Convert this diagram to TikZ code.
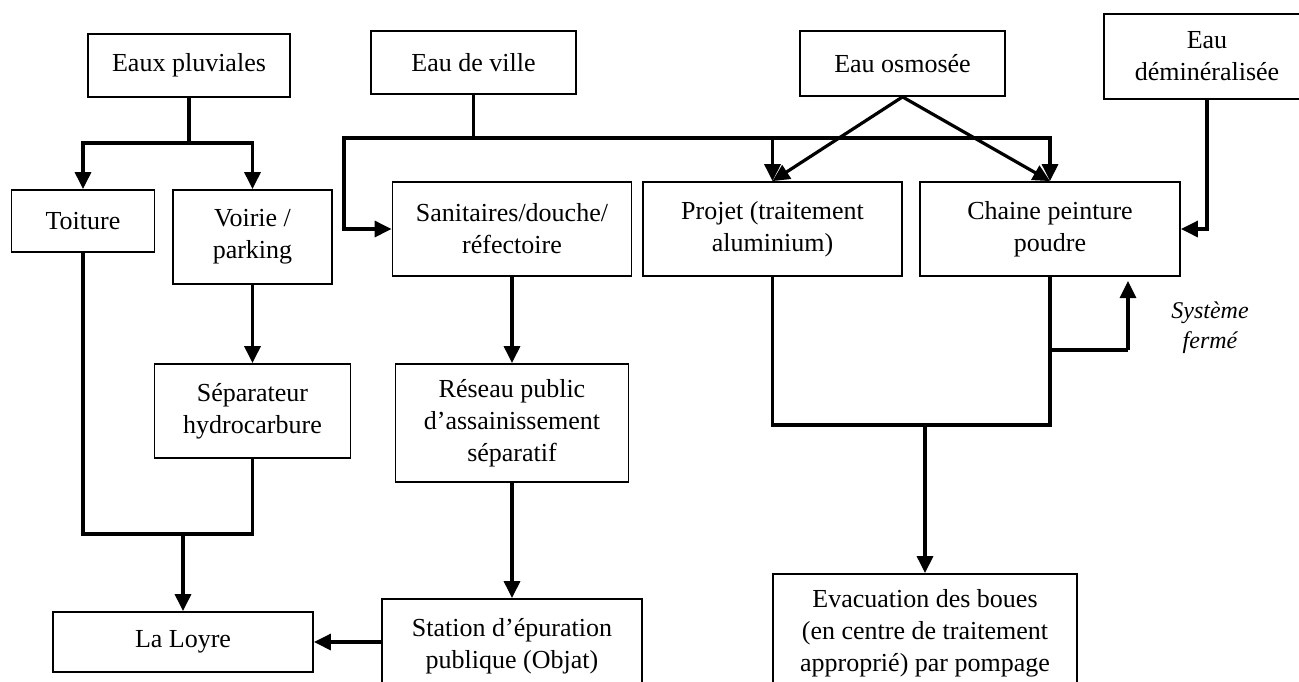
\documentclass[tikz,border=0pt]{standalone}
\usepackage{fontspec}
\setmainfont{Liberation Serif}
\usetikzlibrary{arrows.meta}
\begin{document}
\begin{tikzpicture}[x=1pt,y=-1pt,
  box/.style={draw,line width=1.8pt,rectangle,inner sep=0pt,align=center,font=\fontsize{26}{32}\selectfont},
  conn/.style={line width=3.2pt},
  arr/.style={conn,-{Triangle[width=16pt,length=17pt]}},
  lbl/.style={align=center,inner sep=0pt,font=\fontsize{24}{30}\selectfont\itshape}]
\useasboundingbox (0,0) rectangle (1299,681);
\clip (0,0) rectangle (1299,681);
% top row
\node[box,minimum width=202pt,minimum height=63pt] (pluv) at (189,65.5) {Eaux pluviales};
\node[box,minimum width=205pt,minimum height=63pt] (ville) at (473.5,62.5) {Eau de ville};
\node[box,minimum width=205pt,minimum height=65pt] (osmo) at (902.5,63.5) {Eau osmosée};
\node[box,minimum width=206pt,minimum height=85pt] (demin) at (1207,56.5) {Eau\\déminéralisée};
% second row
\node[box,minimum width=143pt,minimum height=62pt] (toit) at (83,221) {Toiture};
\node[box,minimum width=159pt,minimum height=94pt] (voir) at (252.5,237) {Voirie /\\parking};
\node[box,minimum width=239pt,minimum height=94pt] (sani) at (512,229) {Sanitaires/douche/\\réfectoire};
\node[box,minimum width=259pt,minimum height=94pt] (proj) at (772.5,229) {Projet (traitement\\aluminium)};
\node[box,minimum width=260pt,minimum height=94pt] (chai) at (1050,229) {Chaine peinture\\poudre};
% third row
\node[box,minimum width=196pt,minimum height=94pt] (sep) at (252.5,411) {Séparateur\\hydrocarbure};
\node[box,minimum width=233pt,minimum height=118pt] (res) at (512,423) {Réseau public\\d’assainissement\\séparatif};
% bottom row
\node[box,minimum width=260pt,minimum height=60pt] (loyre) at (183,642) {La Loyre};
\node[box,minimum width=260pt,minimum height=94pt] (stat) at (512,646) {Station d’épuration\\publique (Objat)};
\node[box,minimum width=304pt,minimum height=118pt] (evac) at (925,633) {Evacuation des boues\\(en centre de traitement\\approprié) par pompage};
% label
\node[lbl] (sys) at (1210,328) {Système\\fermé};
% junction coordinates
\coordinate (j1) at (189,143);
\coordinate (j2) at (473.5,138);
\coordinate (jl) at (344,138);
\coordinate (m1) at (183,534);
\coordinate (m2) at (925,425);
\coordinate (l1) at (1050,350);
\coordinate (l2) at (1128,350);
\coordinate (l3) at (1128,281);
% connectors
\draw[conn] (pluv.south) -- (j1);
\draw[arr] (j1) -| (toit.north);
\draw[arr] (j1) -| (voir.north);
\draw[conn] (ville.south) -- (j2);
\draw[arr] (j2) -- (jl) |- (sani.west);
\draw[arr] (j2) -| (proj.north);
\draw[arr] (j2) -| (chai.north);
\draw[arr] (osmo.south) -- (proj.north);
\draw[arr] (osmo.south) -- (chai.north);
\draw[arr] (demin.south) |- (chai.east);
\draw[arr] (voir.south) -- (sep.north);
\draw[conn] (toit.south) |- (m1);
\draw[conn] (sep.south) |- (m1);
\draw[arr] (m1) -- (loyre.north);
\draw[arr] (sani.south) -- (res.north);
\draw[arr] (res.south) -- (stat.north);
\draw[arr] (stat.west |- loyre.east) -- (loyre.east);
\draw[conn] (proj.south) |- (m2);
\draw[conn] (chai.south) |- (m2);
\draw[arr] (m2) -- (evac.north);
\draw[conn] (l1) -- (l2);
\draw[arr] (l2) -- (l3);
\end{tikzpicture}
\end{document}
